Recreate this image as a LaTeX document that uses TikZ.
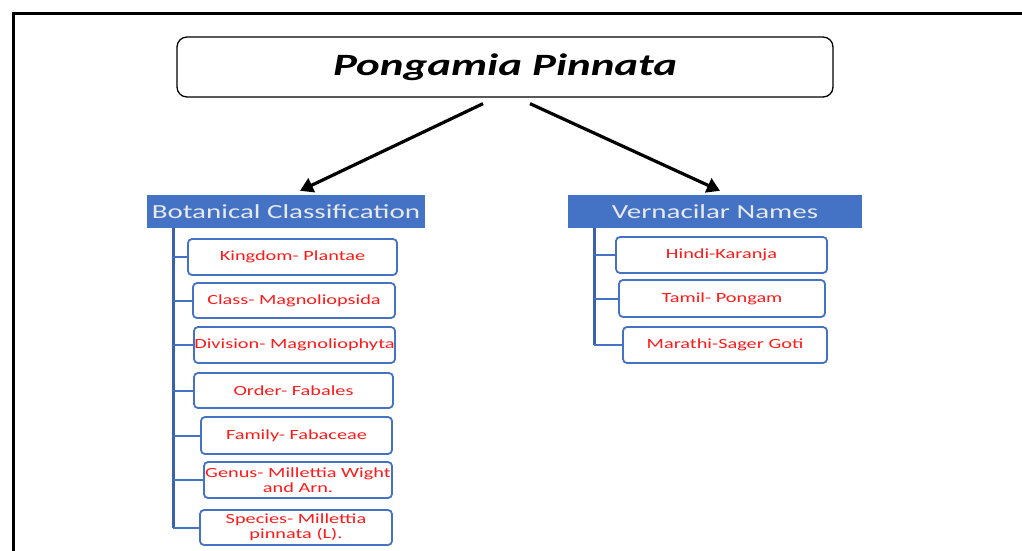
\documentclass[tikz,border=0pt]{standalone}
\usepackage{fontspec}
\setmainfont{Carlito}
\newfontfamily\boxfont[FakeStretch=1.45]{Carlito}
\usetikzlibrary{arrows.meta}
\definecolor{sablue}{HTML}{4472C4}
\definecolor{trunkblue}{HTML}{3A62AC}
\definecolor{txtred}{HTML}{FF1A1A}
\definecolor{hdrtxt}{HTML}{E6E9F0}
\tikzset{
  titlebox/.style={draw=black, line width=1.3pt, rounded corners=10pt, fill=white,
    minimum width=656pt, minimum height=60pt, inner sep=0pt,
    font=\boxfont\bfseries\itshape\fontsize{31}{36}\selectfont},
  hdrbox/.style={fill=sablue, minimum height=33pt, inner sep=0pt, text=hdrtxt,
    font=\boxfont\fontsize{20}{24}\selectfont},
  itembox/.style={draw=sablue, line width=1.8pt, rounded corners=4pt, fill=white,
    inner sep=0pt, align=center, text=txtred,
    font=\boxfont\fontsize{14}{15.5}\selectfont},
  bigarrow/.style={line width=3.2pt, -{Triangle[length=13pt,width=15pt]}},
  trunk/.style={draw=trunkblue, line width=3pt},
  branch/.style={draw=sablue, line width=2pt},
}
\begin{document}
\begin{tikzpicture}[x=1pt,y=-1pt]
\useasboundingbox (0,0) rectangle (1022,550);
\fill[white] (0,0) rectangle (1022,550);
\draw[line width=3pt] (1040,13) -- (13,13) -- (13,570);

\node[titlebox] (t) at (505,67) {Pongamia Pinnata};

\node[hdrbox, minimum width=278pt] (bc) at (286,211.5) {Botanical Classification};
\node[hdrbox, minimum width=294pt] (vn) at (715,211.5) {Vernacilar Names};

\draw[bigarrow] ([shift={(-22,6)}]t.south) -- ([shift={(14,-4)}]bc.north);
\draw[bigarrow] ([shift={(25,6)}]t.south) -- ([shift={(5,-4)}]vn.north);

\node[itembox, minimum width=209pt, minimum height=36pt] (k) at (292.5,257) {Kingdom- Plantae};
\node[itembox, minimum width=202pt, minimum height=35pt] (c) at (294,300.5) {Class- Magnoliopsida};
\node[itembox, minimum width=201pt, minimum height=36pt] (d) at (294.5,345) {Division- Magnoliophyta};
\node[itembox, minimum width=199pt, minimum height=35pt] (o) at (293.5,390.5) {Order- Fabales};
\node[itembox, minimum width=191pt, minimum height=37pt] (f) at (296.5,435.5) {Family- Fabaceae};
\node[itembox, minimum width=188pt, minimum height=36pt] (g) at (298,480) {Genus- Millettia Wight\\and Arn.};
\node[itembox, minimum width=192pt, minimum height=35pt] (s) at (296,527.5) {Species- Millettia\\pinnata (L).};

\node[itembox, minimum width=211pt, minimum height=36pt] (h) at (721.5,255) {Hindi-Karanja};
\node[itembox, minimum width=206pt, minimum height=37pt] (ta) at (722,298.5) {Tamil- Pongam};
\node[itembox, minimum width=204pt, minimum height=36pt] (m) at (725,345) {Marathi-Sager Goti};

\coordinate (lt) at (173,228);
\coordinate (rt) at (594,228);
\draw[trunk] (bc.south -| lt) -- (lt |- s.west);
\foreach \b in {k,c,d,o,f,g,s} \draw[branch] (lt |- \b.west) -- (\b.west);
\draw[trunk] (vn.south -| rt) -- (rt |- m.west);
\foreach \b in {h,ta,m} \draw[branch] (rt |- \b.west) -- (\b.west);
\end{tikzpicture}
\end{document}
